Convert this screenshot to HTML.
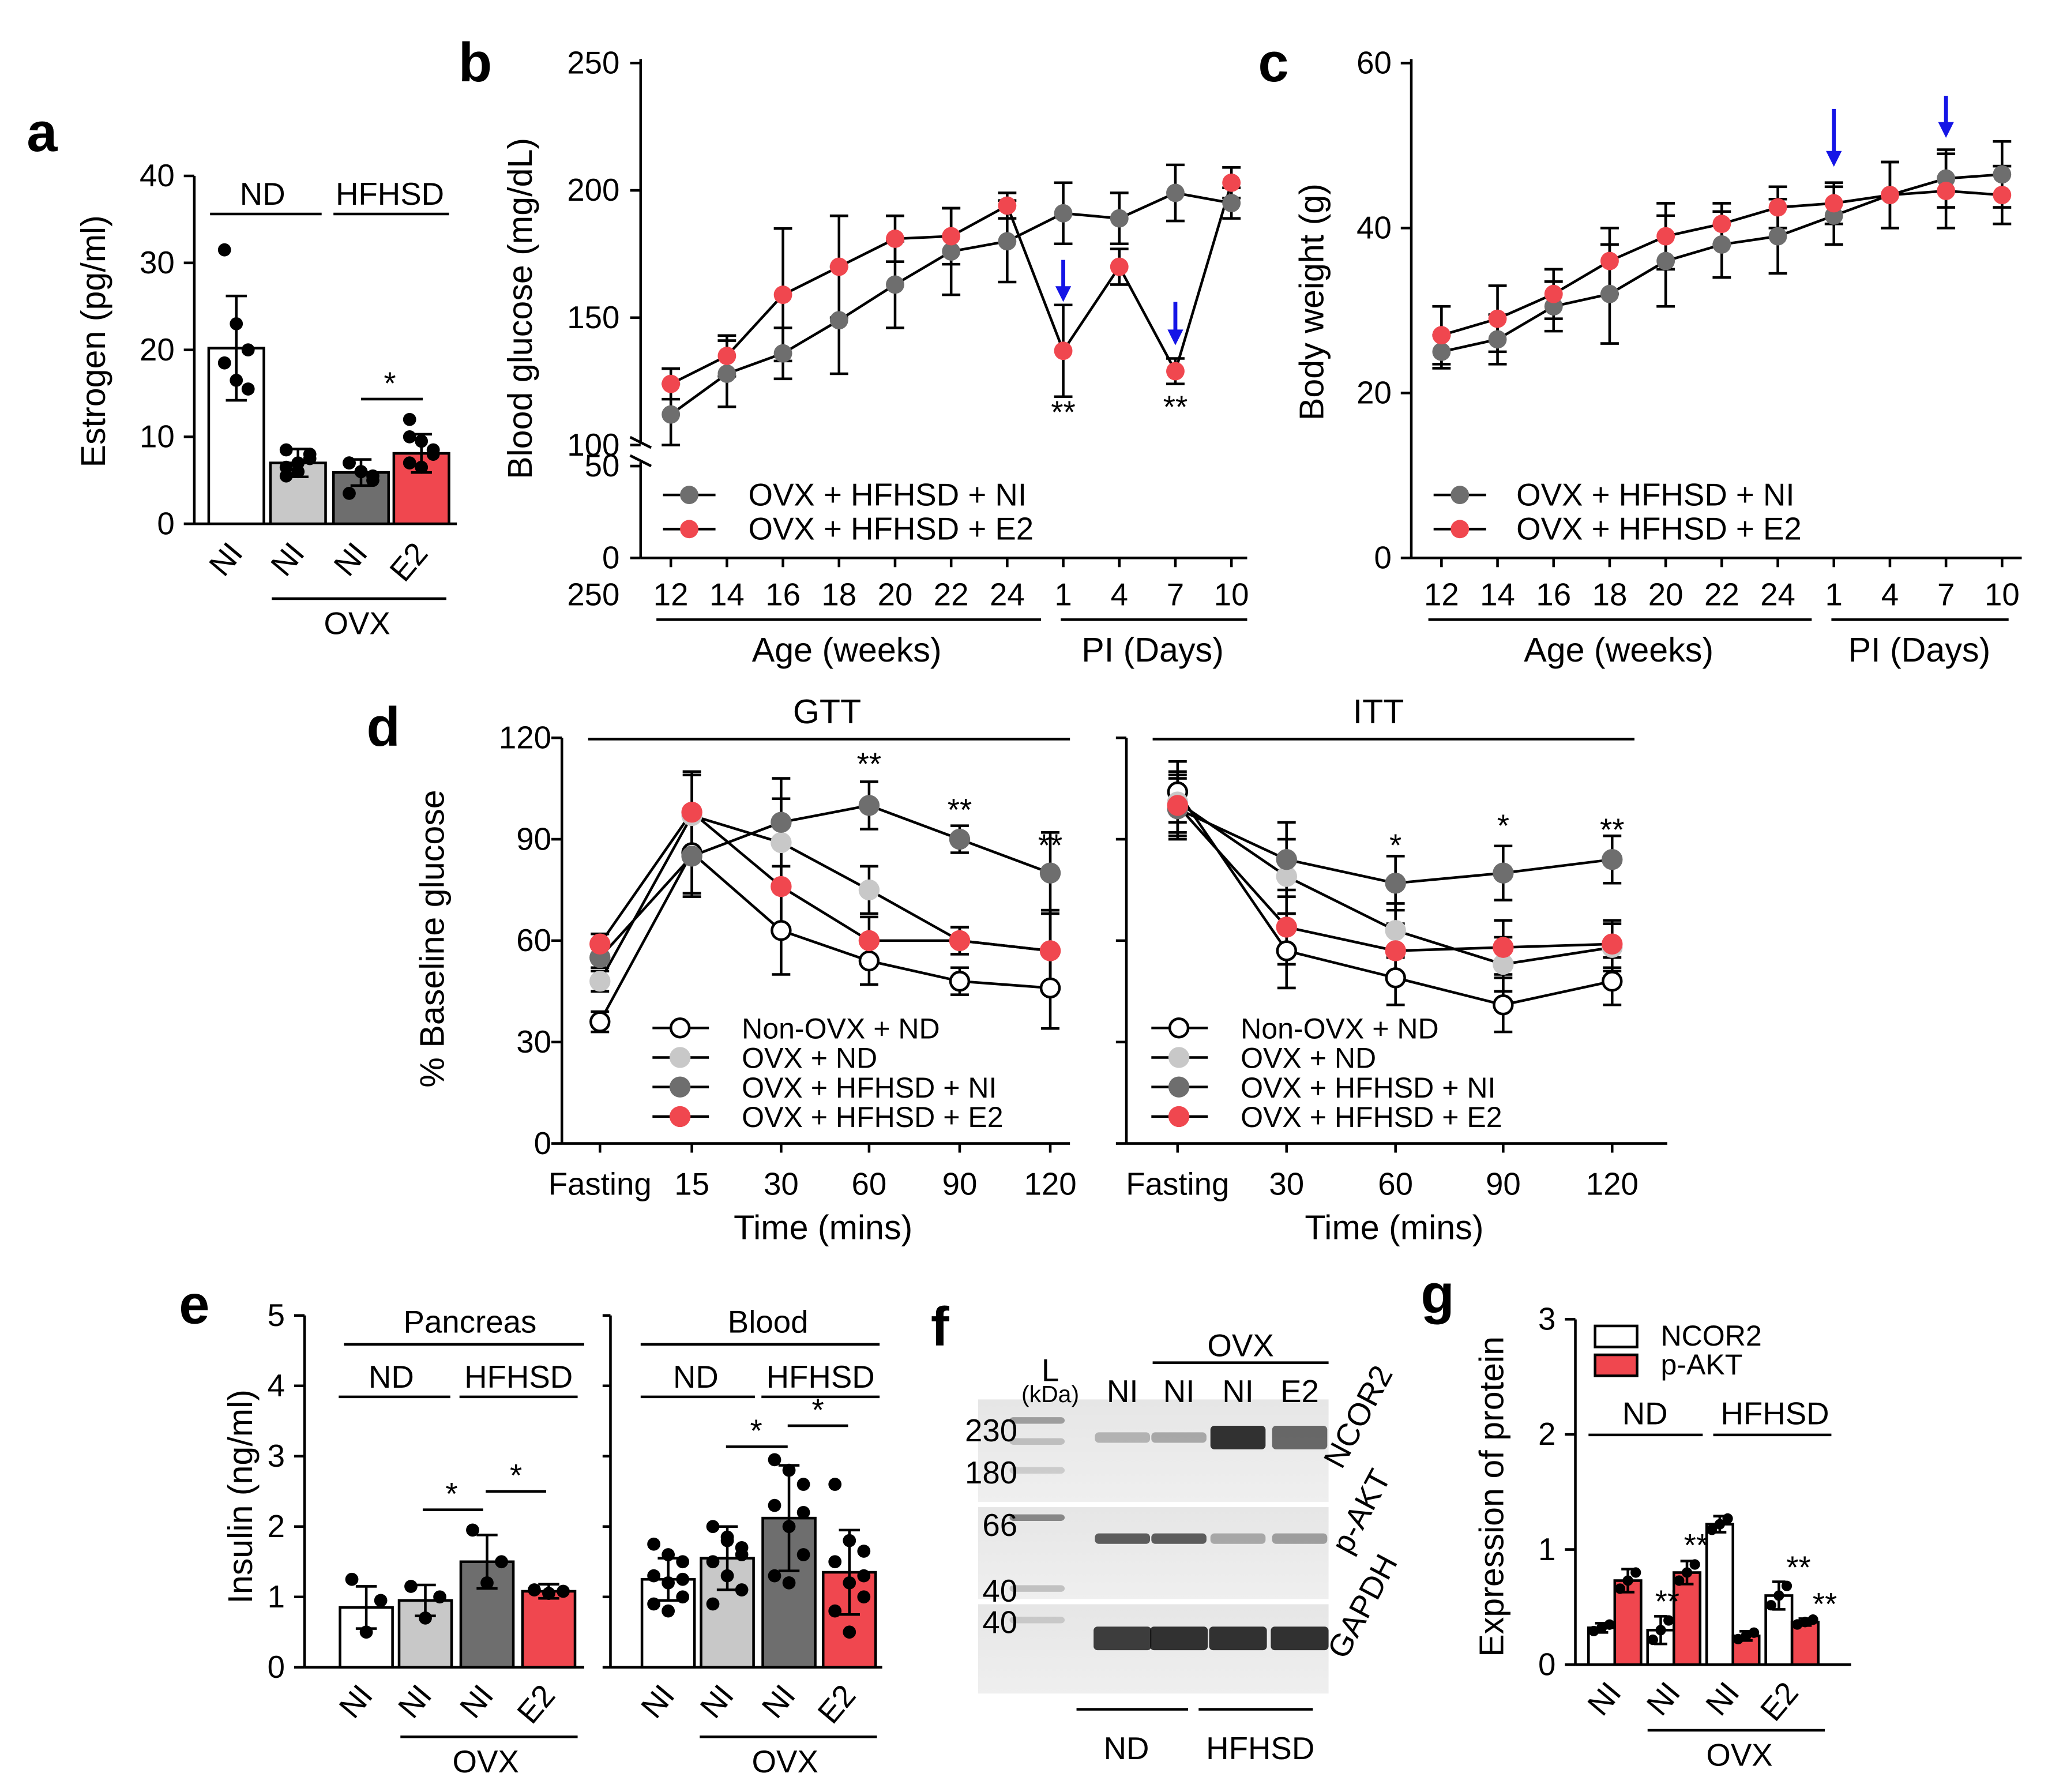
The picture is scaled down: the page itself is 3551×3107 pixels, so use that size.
<!DOCTYPE html>
<html><head><meta charset="utf-8"><style>
html,body{margin:0;padding:0;background:#fff}
svg{display:block;font-family:"Liberation Sans",Arial,sans-serif}
</style></head><body>
<svg id="fig" xmlns="http://www.w3.org/2000/svg" width="3551" height="3107" viewBox="0 0 1560 1365" preserveAspectRatio="none">
<defs><linearGradient id="blotbg" x1="0" x2="0" y1="0" y2="1"><stop offset="0" stop-color="#e6e6e6"/><stop offset="1" stop-color="#efefef"/></linearGradient></defs>
</svg>
<script>
// ---- panel a data ----
const aCats=["NI","NI","NI","E2"];
const aVals=[20.2,7.0,5.9,8.1];
const aErr=[6,1.6,1.5,2.2];
const aDots=[[31.5,23,20,18.5,16.5,15.5],[8.5,7,7.5,5.5,6,8,6.5],[7,6,5,3.5,6,5.5,7],[12,9.5,8.5,7,6.5,8,10]];
const aTicks=[0,10,20,30,40];
// ---- panel b data ----
const bCats=["12","14","16","18","20","22","24","1","4","7","10"];
const bNI=[112,128,136,149,163,176,180,191,189,199,195];
const bNIerr=[12,13,10,21,17,17,16,12,10,11,6];
const bE2=[124,135,159,170,181,182,194,137,170,129,203];
const bE2err=[6,8,26,20,9,11,5,18,7,5,6];
const bTicks=[100,150,200,250];
// ---- panel c data ----
const cCats=["12","14","16","18","20","22","24","1","4","7","10"];
const cNI=[25,26.5,30.5,32,36,38,39,41.5,44,46,46.5];
const cNIerr=[2,3,3,6,5.5,4,4.5,3.5,4,3.5,4];
const cE2=[27,29,32,36,39,40.5,42.5,43,44,44.5,44];
const cE2err=[3.5,4,3,4,4,2.5,2.5,2.5,4,4.5,3.5];
const cTicks=[0,20,40,60];
// ---- panel d data ----
const gttCats=["Fasting","15","30","60","90","120"];
const gttWhite=[36,86,63,54,48,46];
const gttLight=[48,97,89,75,60,57];
const gttDark=[55,85,95,100,90,80];
const gttRed=[59,98,76,60,60,57];
const gttErr=[3,12,13,7,4,12];
const ittCats=["Fasting","30","60","90","120"];
const ittWhite=[104,57,49,41,48];
const ittLight=[101,79,63,53,58];
const ittDark=[99,84,77,80,84];
const ittRed=[100,64,57,58,59];
const ittErr=[9,11,8,8,7];
const dTicks=[0,30,60,90,120];
// ---- panel e data ----
const eCats=["NI","NI","NI","E2"];
const ePanc=[0.85,0.95,1.5,1.08];
const ePancErr=[0.3,0.22,0.38,0.1];
const ePancDots=[[1.25,0.5,0.95],[1.15,0.7,1.0],[1.95,1.2,1.5],[1.1,1.05,1.08]];
const eBlood=[1.25,1.55,2.12,1.35];
const eBloodErr=[0.3,0.45,0.75,0.6];
const eBloodDots=[[1.75,1.6,1.5,1.3,1.2,1.0,0.9,0.8,1.25],[2.0,1.85,1.7,1.5,1.3,1.1,0.9,1.8,1.6],[2.95,2.8,2.6,2.3,2.0,1.6,1.3,1.2,2.2],[2.6,1.8,1.65,1.5,1.2,1.0,0.8,0.5,1.3]];
const eTicks=[0,1,2,3,4,5];
// ---- panel g data ----
const gCats=["NI","NI","NI","E2"];
const gNCOR2=[0.32,0.3,1.22,0.6];
const gNCOR2err=[0.04,0.12,0.07,0.12];
const gPAKT=[0.73,0.8,0.25,0.37];
const gPAKTerr=[0.1,0.1,0.04,0.03];
const gTicks=[0,1,2,3];

const S=document.getElementById('fig');
const NS='http://www.w3.org/2000/svg';
function mk(tag,at){const e=document.createElementNS(NS,tag);for(const k in at)e.setAttribute(k,at[k]);S.appendChild(e);return e;}
function L(x1,y1,x2,y2,name,w,c){const e=mk('line',{x1:x1,y1:y1,x2:x2,y2:y2,stroke:c||'#000','stroke-width':w||2});

return e;}
function T(x,y,s,size,anchor,name,rot,weight){const e=mk('text',{x:x,y:y,'font-size':size,'text-anchor':anchor||'middle',fill:'#000'});if(weight)e.setAttribute('font-weight',weight);if(rot!==undefined)e.setAttribute('transform','rotate('+rot+' '+x+' '+y+')');e.textContent=s;

return e;}
function C(x,y,r,fill,name,stroke){const e=mk('circle',{cx:x,cy:y,r:r,fill:fill,stroke:stroke||'none','stroke-width':2});

return e;}
function R(x,y,w,h,fill,name){const e=mk('rect',{x:x,y:y,width:w,height:h,fill:fill,stroke:'#000','stroke-width':2});

return e;}
function EB(x,y1,y2,cw,name){L(x,y1,x,y2,name,2);L(x-cw,y1,x+cw,y1,name+'-cap',2);L(x-cw,y2,x+cw,y2,name+'-cap',2);}
function P(pts,name,c){const e=mk('polyline',{points:pts.map(p=>p.join(',')).join(' '),fill:'none',stroke:c||'#000','stroke-width':2});

return e;}
function arrow(x,y1,y2,name){L(x,y1,x,y2-8,name,3,'#1515e6');const e=mk('polygon',{points:(x-6)+','+(y2-12)+' '+(x+6)+','+(y2-12)+' '+x+','+y2,fill:'#1515e6'});

}
const FT=24;
const barFill=['#fff','#c8c8c8','#6e6e6e','#f0474f'];

// ================= Panel a =================
T(32,115,'a',42,'middle','panel-a-label',undefined,'bold');
const ya=v=>399-v*6.625;
L(148,ya(40),148,399,'a-y-axis');L(148,399,348,399,'a-x-axis');
aTicks.forEach(t=>{L(140,ya(t),148,ya(t),'a-y-tick');T(133,ya(t)+8,String(t),FT,'end','a-y-tick-label');});
T(80,260,'Estrogen (pg/ml)',26,'middle','a-y-axis-title',-90);
const aX=[180,227,275,321];
aCats.forEach((c,i)=>{R(aX[i]-21,ya(aVals[i]),42,399-ya(aVals[i]),barFill[i],'a-bar-'+i);
EB(aX[i],ya(aVals[i]+aErr[i]),ya(aVals[i]-aErr[i]),8,'a-error-bar');
aDots[i].forEach((d,j)=>C(aX[i]+((j%3)-1)*9,ya(d),5,'#000','a-dot'));
T(aX[i]+6,422,c,FT,'end','a-x-label',-50);});
L(160,163,245,163,'a-nd-line');T(200,156,'ND',FT,'middle','a-nd-label');
L(254,163,342,163,'a-hfhsd-line');T(297,156,'HFHSD',FT,'middle','a-hfhsd-label');
L(207,456,340,456,'a-ovx-line');T(272,483,'OVX',FT,'middle','a-ovx-label');
L(275,304,322,304,'a-sig-line');T(297,300,'*',FT,'middle','a-sig-star');

// ================= Panel b =================
T(362,62,'b',42,'middle','panel-b-label',undefined,'bold');
const bXpos=i=>511+i*42.7;
const yb=v=>48+(250-v)*1.94;
L(488,45,488,338,'b-y-axis-upper');L(488,352,488,425,'b-y-axis-lower');
L(480,333,496,341,'b-axis-break');L(480,347,496,355,'b-axis-break');
L(488,425,950,425,'b-x-axis');
bTicks.forEach(t=>{L(480,yb(t),488,yb(t),'b-y-tick');T(472,yb(t)+8,String(t),FT,'end','b-y-tick-label');});
L(480,355,488,355,'b-y-tick');T(472,363,'50',FT,'end','b-y-tick-label');
L(480,425,488,425,'b-y-tick');T(472,433,'0',FT,'end','b-y-tick-label');
T(472,461,'250',FT,'end','b-stray-label');
T(405,235,'Blood glucose (mg/dL)',26,'middle','b-y-axis-title',-90);
bCats.forEach((c,i)=>{L(bXpos(i),425,bXpos(i),432,'b-x-tick');T(bXpos(i),461,c,FT,'middle','b-x-label');});
bNI.forEach((v,i)=>EB(bXpos(i),yb(v+bNIerr[i]),yb(v-bNIerr[i]),7,'b-ni-error'));
bE2.forEach((v,i)=>EB(bXpos(i),yb(v+bE2err[i]),yb(v-bE2err[i]),7,'b-e2-error'));
P(bNI.map((v,i)=>[bXpos(i),yb(v)]),'b-ni-line');P(bE2.map((v,i)=>[bXpos(i),yb(v)]),'b-e2-line');
bNI.forEach((v,i)=>C(bXpos(i),yb(v),7,'#6e6e6e','b-ni-point'));
bE2.forEach((v,i)=>C(bXpos(i),yb(v),7,'#f0474f','b-e2-point'));
arrow(bXpos(7),198,230,'b-arrow');arrow(bXpos(9),230,263,'b-arrow');
T(bXpos(7),322,'**',FT,'middle','b-sig');T(bXpos(9),318,'**',FT,'middle','b-sig');
L(505,377,545,377,'b-legend-ni-line');C(525,377,7,'#6e6e6e','b-legend-ni-marker');T(570,385,'OVX + HFHSD + NI',FT,'start','b-legend-ni-text');
L(505,403,545,403,'b-legend-e2-line');C(525,403,7,'#f0474f','b-legend-e2-marker');T(570,411,'OVX + HFHSD + E2',FT,'start','b-legend-e2-text');
L(500,472,793,472,'b-age-line');T(645,504,'Age (weeks)',26,'middle','b-age-label');
L(808,472,950,472,'b-pi-line');T(878,504,'PI (Days)',26,'middle','b-pi-label');

// ================= Panel c =================
T(970,62,'c',42,'middle','panel-c-label',undefined,'bold');
const cXpos=i=>1098+i*42.7;
const yc=v=>425-v*6.283;
L(1075,45,1075,425,'c-y-axis');L(1075,425,1540,425,'c-x-axis');
cTicks.forEach(t=>{L(1067,yc(t),1075,yc(t),'c-y-tick');T(1060,yc(t)+8,String(t),FT,'end','c-y-tick-label');});
T(1008,230,'Body weight (g)',26,'middle','c-y-axis-title',-90);
cCats.forEach((c,i)=>{L(cXpos(i),425,cXpos(i),432,'c-x-tick');T(cXpos(i),461,c,FT,'middle','c-x-label');});
cNI.forEach((v,i)=>EB(cXpos(i),yc(v+cNIerr[i]),yc(v-cNIerr[i]),7,'c-ni-error'));
cE2.forEach((v,i)=>EB(cXpos(i),yc(v+cE2err[i]),yc(v-cE2err[i]),7,'c-e2-error'));
P(cNI.map((v,i)=>[cXpos(i),yc(v)]),'c-ni-line');P(cE2.map((v,i)=>[cXpos(i),yc(v)]),'c-e2-line');
cNI.forEach((v,i)=>C(cXpos(i),yc(v),7,'#6e6e6e','c-ni-point'));
cE2.forEach((v,i)=>C(cXpos(i),yc(v),7,'#f0474f','c-e2-point'));
arrow(cXpos(7),83,127,'c-arrow');arrow(cXpos(9),73,105,'c-arrow');
L(1092,377,1132,377,'c-legend-ni-line');C(1112,377,7,'#6e6e6e','c-legend-ni-marker');T(1155,385,'OVX + HFHSD + NI',FT,'start','c-legend-ni-text');
L(1092,403,1132,403,'c-legend-e2-line');C(1112,403,7,'#f0474f','c-legend-e2-marker');T(1155,411,'OVX + HFHSD + E2',FT,'start','c-legend-e2-text');
L(1088,472,1380,472,'c-age-line');T(1233,504,'Age (weeks)',26,'middle','c-age-label');
L(1395,472,1530,472,'c-pi-line');T(1462,504,'PI (Days)',26,'middle','c-pi-label');

// ================= Panel d =================
T(292,568,'d',42,'middle','panel-d-label',undefined,'bold');
const yd=v=>871-v*2.575;
const series=[['white','#fff','#000'],['light','#c8c8c8','none'],['dark','#6e6e6e','none'],['red','#f0474f','none']];
function dPanel(pre,ax,xs,cats,data,err,xEnd){
 L(ax,562,ax,871,pre+'-y-axis');L(ax,871,xEnd,871,pre+'-x-axis');
 dTicks.forEach(t=>L(ax-8,yd(t),ax,yd(t),pre+'-y-tick'));
 cats.forEach((c,i)=>{L(xs[i],871,xs[i],878,pre+'-x-tick');T(xs[i],910,c,FT,'middle',pre+'-x-label');});
 data.forEach((d,k)=>d.forEach((v,i)=>EB(xs[i],yd(v+err[i]),yd(v-err[i]),7,pre+'-error')));
 data.forEach((d,k)=>P(d.map((v,i)=>[xs[i],yd(v)]),pre+'-line-'+series[k][0]));
 data.forEach((d,k)=>d.forEach((v,i)=>C(xs[i],yd(v),k==0?7:8,series[k][1],pre+'-point-'+series[k][0],series[k][2])));
}
dTicks.forEach(t=>T(420,yd(t)+8,String(t),FT,'end','d-y-tick-label'));
T(338,715,'% Baseline glucose',26,'middle','d-y-axis-title',-90);
const gttX=[457,527,595,662,731,800];
dPanel('gtt',428,gttX,gttCats,[gttWhite,gttLight,gttDark,gttRed],gttErr,815);
L(448,563,815,563,'gtt-title-line');T(630,551,'GTT',26,'middle','gtt-title');
T(662,590,'**',FT,'middle','gtt-sig');T(731,625,'**',FT,'middle','gtt-sig');T(800,652,'**',FT,'middle','gtt-sig');
T(627,944,'Time (mins)',26,'middle','gtt-x-title');
const ittX=[897,980,1063,1145,1228];
dPanel('itt',858,ittX,ittCats,[ittWhite,ittLight,ittDark,ittRed],ittErr,1270);
L(878,563,1245,563,'itt-title-line');T(1050,551,'ITT',26,'middle','itt-title');
T(1063,652,'*',FT,'middle','itt-sig');T(1145,637,'*',FT,'middle','itt-sig');T(1228,640,'**',FT,'middle','itt-sig');
T(1062,944,'Time (mins)',26,'middle','itt-x-title');
const legTxt=['Non-OVX + ND','OVX + ND','OVX + HFHSD + NI','OVX + HFHSD + E2'];
[[497,565],[877,945]].forEach((p,j)=>legTxt.forEach((t,k)=>{const y=783+k*22.5;L(p[0],y,p[0]+43,y,'d-legend-line');C(p[0]+21,y,k==0?7:8,series[k][1],'d-legend-marker',series[k][2]);T(p[1],y+8,t,22,'start','d-legend-text');}));

// ================= Panel e =================
T(148,1008,'e',42,'middle','panel-e-label',undefined,'bold');
const ye=v=>1270-v*53.6;
L(232,1002,232,1270,'e-y-axis');L(232,1270,445,1270,'e-x-axis');
L(465,1002,465,1270,'e-blood-y-axis');L(465,1270,672,1270,'e-blood-x-axis');
eTicks.forEach(t=>{L(224,ye(t),232,ye(t),'e-y-tick');T(217,ye(t)+8,String(t),FT,'end','e-y-tick-label');L(459,ye(t),465,ye(t),'e-blood-y-tick');});
T(192,1140,'Insulin (ng/ml)',26,'middle','e-y-axis-title',-90);
const ePx=[279,324,371,418],eBx=[509,554,601,647];
function eBars(xs,vals,errs,dots,pre){vals.forEach((v,i)=>{R(xs[i]-20,ye(v),40,1270-ye(v),barFill[i],pre+'-bar');
EB(xs[i],ye(v+errs[i]),ye(v-errs[i]),8,pre+'-error');
dots[i].forEach((d,j)=>C(xs[i]+((j%3)-1)*11,ye(d),5,'#000',pre+'-dot'));
T(xs[i]+6,1292,eCats[i],FT,'end',pre+'-x-label',-50);});}
eBars(ePx,ePanc,ePancErr,ePancDots,'e-pancreas');eBars(eBx,eBlood,eBloodErr,eBloodDots,'e-blood');
L(262,1024,445,1024,'e-pancreas-line');T(358,1015,'Pancreas',FT,'middle','e-pancreas-title');
L(258,1064,343,1064,'e-nd-line');T(298,1057,'ND',FT,'middle','e-nd-label');
L(350,1064,440,1064,'e-hfhsd-line');T(395,1057,'HFHSD',FT,'middle','e-hfhsd-label');
L(488,1024,670,1024,'e-blood-line');T(585,1015,'Blood',FT,'middle','e-blood-title');
L(488,1064,575,1064,'e-nd-line');T(530,1057,'ND',FT,'middle','e-nd-label');
L(580,1064,670,1064,'e-hfhsd-line');T(625,1057,'HFHSD',FT,'middle','e-hfhsd-label');
L(322,1150,368,1150,'e-sig-line');T(344,1146,'*',FT,'middle','e-sig');
L(370,1136,416,1136,'e-sig-line');T(393,1132,'*',FT,'middle','e-sig');
L(553,1102,600,1102,'e-sig-line');T(576,1098,'*',FT,'middle','e-sig');
L(600,1086,646,1086,'e-sig-line');T(623,1082,'*',FT,'middle','e-sig');
L(305,1323,440,1323,'e-ovx-line');T(370,1350,'OVX',FT,'middle','e-ovx-label');
L(533,1323,668,1323,'e-ovx-line');T(598,1350,'OVX',FT,'middle','e-ovx-label');

// ================= Panel f =================
T(716,1025,'f',42,'middle','panel-f-label',undefined,'bold');
[[1066,78],[1148,70],[1222,68]].forEach(b=>{const e=mk('rect',{x:745,y:b[0],width:267,height:b[1],fill:'url(#blotbg)'});

});
const lanes=[855,898,943,990];
function band(x,y,w,h,op,name){const e=mk('rect',{x:x-w/2,y:y-h/2,width:w,height:h,rx:3,fill:'#111','fill-opacity':op});

}
[0.25,0.3,0.85,0.6].forEach((o,i)=>band(lanes[i],1095,42,i>1?18:8,o,'ncor2-band'));
[0.65,0.65,0.3,0.35].forEach((o,i)=>band(lanes[i],1172,42,8,o,'pakt-band'));
[0.8,0.85,0.85,0.85].forEach((o,i)=>band(lanes[i],1248,44,18,o,'gapdh-band'));
[[1082,0.35],[1098,0.2],[1120,0.15],[1156,0.45],[1210,0.2],[1234,0.15]].forEach(b=>band(790,b[0],42,5,b[1],'ladder-band'));
T(775,1098,'230',FT,'end','f-mw-230');T(775,1130,'180',FT,'end','f-mw-180');
T(775,1170,'66',FT,'end','f-mw-66');T(775,1220,'40',FT,'end','f-mw-40');T(775,1244,'40',FT,'end','f-mw-40b');
T(800,1052,'L',FT,'middle','f-ladder-label');T(800,1068,'(kDa)',18,'middle','f-kda-label');
['NI','NI','NI','E2'].forEach((c,i)=>T(lanes[i],1068,c,FT,'middle','f-lane-label'));
L(878,1038,1012,1038,'f-ovx-line');T(945,1033,'OVX',FT,'middle','f-ovx-label');
T(1022,1120,'NCOR2',FT,'start','f-ncor2-label',-62);T(1028,1185,'p-AKT',FT,'start','f-pakt-label',-62);T(1025,1265,'GAPDH',FT,'start','f-gapdh-label',-62);
L(820,1302,905,1302,'f-nd-line');T(858,1340,'ND',FT,'middle','f-nd-label');
L(913,1302,1000,1302,'f-hfhsd-line');T(960,1340,'HFHSD',FT,'middle','f-hfhsd-label');

// ================= Panel g =================
T(1095,1000,'g',42,'middle','panel-g-label',undefined,'bold');
const yg=v=>1268-v*87.7;
L(1200,1005,1200,1268,'g-y-axis');L(1200,1268,1410,1268,'g-x-axis');
gTicks.forEach(t=>{L(1192,yg(t),1200,yg(t),'g-y-tick');T(1185,yg(t)+8,String(t),FT,'end','g-y-tick-label');});
T(1145,1140,'Expression of protein',26,'middle','g-y-axis-title',-90);
const gX=[1230,1275,1320,1365];
gCats.forEach((c,i)=>{
 R(gX[i]-20,yg(gNCOR2[i]),20,1268-yg(gNCOR2[i]),'#fff','g-ncor2-bar');
 R(gX[i],yg(gPAKT[i]),20,1268-yg(gPAKT[i]),'#f0474f','g-pakt-bar');
 EB(gX[i]-10,yg(gNCOR2[i]+gNCOR2err[i]),yg(gNCOR2[i]-gNCOR2err[i]),5,'g-ncor2-error');
 EB(gX[i]+10,yg(gPAKT[i]+gPAKTerr[i]),yg(gPAKT[i]-gPAKTerr[i]),5,'g-pakt-error');
 [-4,0,4].forEach((o,j)=>{C(gX[i]-10+o*1.5,yg(gNCOR2[i]+(j-1)*gNCOR2err[i]*0.7),4,'#000','g-dot');C(gX[i]+10+o*1.5,yg(gPAKT[i]+(j-1)*gPAKTerr[i]*0.7),4,'#000','g-dot');});
 T(gX[i]+6,1290,c,FT,'end','g-x-label',-50);});
T(1270,1228,'**',FT,'middle','g-sig');T(1292,1185,'**',FT,'middle','g-sig');T(1370,1202,'**',FT,'middle','g-sig');T(1390,1230,'**',FT,'middle','g-sig');
R(1215,1010,32,16,'#fff','g-legend-ncor2-box');T(1265,1025,'NCOR2',22,'start','g-legend-ncor2-text');
R(1215,1032,32,16,'#f0474f','g-legend-pakt-box');T(1265,1047,'p-AKT',22,'start','g-legend-pakt-text');
L(1210,1093,1297,1093,'g-nd-line');T(1253,1085,'ND',FT,'middle','g-nd-label');
L(1305,1093,1395,1093,'g-hfhsd-line');T(1352,1085,'HFHSD',FT,'middle','g-hfhsd-label');
L(1255,1318,1390,1318,'g-ovx-line');T(1325,1345,'OVX',FT,'middle','g-ovx-label');
</script>
</body></html>
